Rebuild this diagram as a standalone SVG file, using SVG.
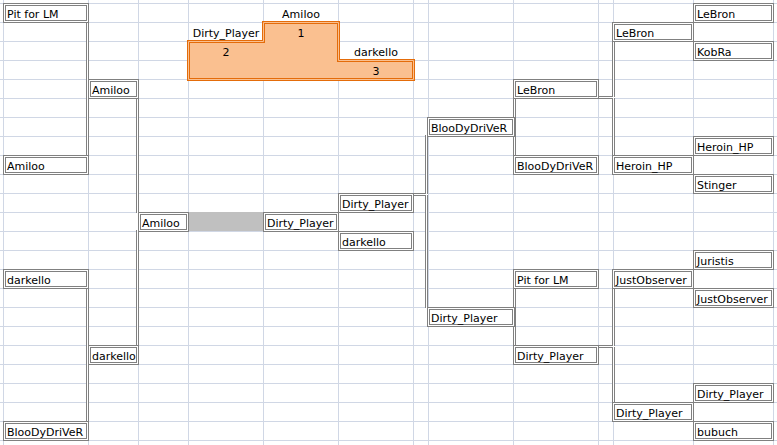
<svg xmlns="http://www.w3.org/2000/svg" width="777" height="445" viewBox="0 0 777 445">
<style>
.grid{stroke:#D0D7E5;stroke-width:1;fill:none}
.bo{fill:#fff;stroke:#808080;stroke-width:3}
.bi{fill:none;stroke:#fff;stroke-width:1}
.co{fill:none;stroke:#808080;stroke-width:3}
.ci{fill:none;stroke:#fff;stroke-width:1}
.po{fill:#FAC090;stroke:#E46C0A;stroke-width:3}
.pi{fill:none;stroke:#FAC090;stroke-width:1}
text{font-family:"DejaVu Sans",Verdana,sans-serif;font-size:11px;fill:#000}
.c{text-anchor:middle}
</style>
<rect width="777" height="445" fill="#fff"/>
<g id="grid" class="grid">
<path d="M3.5,0V445M88.5,0V445M138.5,0V445M188.5,0V445M263.5,0V445M338.5,0V445M413.5,0V445M428.5,0V445M513.5,0V445M598.5,0V445M613.5,0V445M693.5,0V445M773.5,0V445"/>
<path d="M0,3.5H777M0,22.5H777M0,41.5H777M0,60.5H777M0,79.5H777M0,98.5H777M0,117.5H777M0,136.5H777M0,155.5H777M0,174.5H777M0,193.5H777M0,212.5H777M0,231.5H777M0,250.5H777M0,269.5H777M0,288.5H777M0,307.5H777M0,326.5H777M0,345.5H777M0,364.5H777M0,383.5H777M0,402.5H777M0,421.5H777M0,440.5H777"/>
</g>
<g id="podium">
<polygon class="po" points="188.5,41.5 263.5,41.5 263.5,22.5 338.5,22.5 338.5,60.5 413.5,60.5 413.5,79.5 188.5,79.5"/>
<polygon class="pi" points="188.5,41.5 263.5,41.5 263.5,22.5 338.5,22.5 338.5,60.5 413.5,60.5 413.5,79.5 188.5,79.5"/>
<text class="c" x="301" y="18">Amiloo</text>
<text class="c" x="301" y="37">1</text>
<text class="c" x="226" y="37">Dirty_Player</text>
<text class="c" x="226" y="56">2</text>
<text class="c" x="376" y="56">darkello</text>
<text class="c" x="376" y="75">3</text>
</g>
<rect id="final-fill" x="189" y="212" width="74" height="19" fill="#C0C0C0"/>
<g id="connectors">
<path class="co" d="M87.5,21V156M87.5,287V422M137.5,97V213M137.5,230V346M412,194.5H428M426.5,135V308M514.5,97V156M514.5,287V346M597,97.5H615M613.5,40V156M597,346.5H615M613.5,287V403"/>
<path class="ci" d="M87.5,21V156M87.5,287V422M137.5,97V213M137.5,230V346M412,194.5H428M426.5,135V308M514.5,97V156M514.5,287V346M597,97.5H615M613.5,40V156M597,346.5H615M613.5,287V403"/>
</g>
<g id="a0"><rect class="bo" x="4.5" y="4.5" width="83" height="17"/><rect class="bi" x="4.5" y="4.5" width="83" height="17"/><text x="7" y="18">Pit for LM</text></g>
<g id="a8"><rect class="bo" x="4.5" y="156.5" width="83" height="17"/><rect class="bi" x="4.5" y="156.5" width="83" height="17"/><text x="7" y="170">Amiloo</text></g>
<g id="a14"><rect class="bo" x="4.5" y="270.5" width="83" height="17"/><rect class="bi" x="4.5" y="270.5" width="83" height="17"/><text x="7" y="284">darkello</text></g>
<g id="a22"><rect class="bo" x="4.5" y="422.5" width="83" height="17"/><rect class="bi" x="4.5" y="422.5" width="83" height="17"/><text x="7" y="436">BlooDyDriVeR</text></g>
<g id="b4"><rect class="bo" x="89.5" y="80.5" width="48" height="17"/><rect class="bi" x="89.5" y="80.5" width="48" height="17"/><text x="92" y="94">Amiloo</text></g>
<g id="b18"><rect class="bo" x="89.5" y="346.5" width="48" height="17"/><rect class="bi" x="89.5" y="346.5" width="48" height="17"/><text x="92" y="360">darkello</text></g>
<g id="c11"><rect class="bo" x="139.5" y="213.5" width="48" height="17"/><rect class="bi" x="139.5" y="213.5" width="48" height="17"/><text x="142" y="227">Amiloo</text></g>
<g id="e11"><rect class="bo" x="264.5" y="213.5" width="73" height="17"/><rect class="bi" x="264.5" y="213.5" width="73" height="17"/><text x="267" y="227">Dirty_Player</text></g>
<g id="f10"><rect class="bo" x="339.5" y="194.5" width="73" height="17"/><rect class="bi" x="339.5" y="194.5" width="73" height="17"/><text x="342" y="208">Dirty_Player</text></g>
<g id="f12"><rect class="bo" x="339.5" y="232.5" width="73" height="17"/><rect class="bi" x="339.5" y="232.5" width="73" height="17"/><text x="342" y="246">darkello</text></g>
<g id="h6"><rect class="bo" x="428.5" y="118.5" width="85" height="17"/><rect class="bi" x="428.5" y="118.5" width="85" height="17"/><text x="431" y="132">BlooDyDriVeR</text></g>
<g id="h16"><rect class="bo" x="428.5" y="308.5" width="85" height="17"/><rect class="bi" x="428.5" y="308.5" width="85" height="17"/><text x="431" y="322">Dirty_Player</text></g>
<g id="i4"><rect class="bo" x="514.5" y="80.5" width="83" height="17"/><rect class="bi" x="514.5" y="80.5" width="83" height="17"/><text x="517" y="94">LeBron</text></g>
<g id="i8"><rect class="bo" x="514.5" y="156.5" width="83" height="17"/><rect class="bi" x="514.5" y="156.5" width="83" height="17"/><text x="517" y="170">BlooDyDriVeR</text></g>
<g id="i14"><rect class="bo" x="514.5" y="270.5" width="83" height="17"/><rect class="bi" x="514.5" y="270.5" width="83" height="17"/><text x="517" y="284">Pit for LM</text></g>
<g id="i18"><rect class="bo" x="514.5" y="346.5" width="83" height="17"/><rect class="bi" x="514.5" y="346.5" width="83" height="17"/><text x="517" y="360">Dirty_Player</text></g>
<g id="k1"><rect class="bo" x="613.5" y="23.5" width="79" height="17"/><rect class="bi" x="613.5" y="23.5" width="79" height="17"/><text x="616" y="37">LeBron</text></g>
<g id="k8"><rect class="bo" x="613.5" y="156.5" width="79" height="17"/><rect class="bi" x="613.5" y="156.5" width="79" height="17"/><text x="616" y="170">Heroin_HP</text></g>
<g id="k14"><rect class="bo" x="613.5" y="270.5" width="79" height="17"/><rect class="bi" x="613.5" y="270.5" width="79" height="17"/><text x="616" y="284">JustObserver</text></g>
<g id="k21"><rect class="bo" x="613.5" y="403.5" width="79" height="17"/><rect class="bi" x="613.5" y="403.5" width="79" height="17"/><text x="616" y="417">Dirty_Player</text></g>
<g id="l0"><rect class="bo" x="694.5" y="4.5" width="78" height="17"/><rect class="bi" x="694.5" y="4.5" width="78" height="17"/><text x="697" y="18">LeBron</text></g>
<g id="l2"><rect class="bo" x="694.5" y="42.5" width="78" height="17"/><rect class="bi" x="694.5" y="42.5" width="78" height="17"/><text x="697" y="56">KobRa</text></g>
<g id="l7"><rect class="bo" x="694.5" y="137.5" width="78" height="17"/><rect class="bi" x="694.5" y="137.5" width="78" height="17"/><text x="697" y="151">Heroin_HP</text></g>
<g id="l9"><rect class="bo" x="694.5" y="175.5" width="78" height="17"/><rect class="bi" x="694.5" y="175.5" width="78" height="17"/><text x="697" y="189">Stinger</text></g>
<g id="l13"><rect class="bo" x="694.5" y="251.5" width="78" height="17"/><rect class="bi" x="694.5" y="251.5" width="78" height="17"/><text x="697" y="265">Juristis</text></g>
<g id="l15"><rect class="bo" x="694.5" y="289.5" width="78" height="17"/><rect class="bi" x="694.5" y="289.5" width="78" height="17"/><text x="697" y="303">JustObserver</text></g>
<g id="l20"><rect class="bo" x="694.5" y="384.5" width="78" height="17"/><rect class="bi" x="694.5" y="384.5" width="78" height="17"/><text x="697" y="398">Dirty_Player</text></g>
<g id="l22"><rect class="bo" x="694.5" y="422.5" width="78" height="17"/><rect class="bi" x="694.5" y="422.5" width="78" height="17"/><text x="697" y="436">bubuch</text></g>
</svg>
